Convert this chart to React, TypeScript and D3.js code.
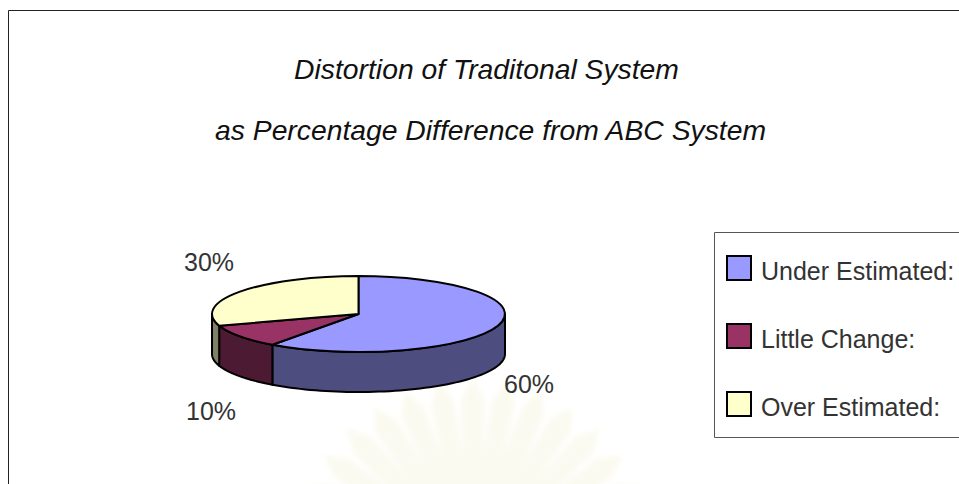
import React from 'react';
import * as d3 from 'd3';

const width = 959;
const height = 484;

const titleLines = ['Distortion of Traditonal System', 'as Percentage Difference from ABC System'];
const titleCenters = [486.5, 490.5];
const categories = ['Under Estimated:', 'Little Change:', 'Over Estimated:'];
const shares = [60, 10, 30];
const topColors = ['#9999ff', '#993366', '#ffffcc'];
const sideColors = ['#4d4d80', '#4d1a33', '#808066'];
const labelSpots: [number, number][] = [[504, 393], [186, 419.5], [184, 271]];

const cx = 358.5;
const cy = 314;
const rx = 146.5;
const ry = 38;
const depth = 40;

const slices = d3.pie<number>().sort(null).value(d => d)(shares);

const arcGen = d3.arc<d3.PieArcDatum<number>>().innerRadius(0).outerRadius(rx);

// points along the rim of the squashed disc
const rim = (a: number): [number, number] => [cx + rx * Math.sin(a), cy - ry * Math.cos(a)];

const line = d3.line();

const sidePath = (start: number, end: number) => {
  const from = Math.max(start, Math.PI / 2);
  const to = Math.min(end, (3 * Math.PI) / 2);
  if (to <= from) return null;
  const steps = d3.range(0, 61).map(i => from + ((to - from) * i) / 60);
  const upper = steps.map(rim);
  const lower = steps.slice().reverse().map(a => {
    const [x, y] = rim(a);
    return [x, y + depth] as [number, number];
  });
  return line([...upper, ...lower]) + 'Z';
};

const legendY = d3.scalePoint<string>().domain(categories).range([268, 404]);

const rayAngles = d3.range(-66, 67, 11);

const App = () => {
  return (
    <svg width={width} height={height} style={{ position: 'absolute', left: 0, top: 0 }} fontFamily="'Liberation Sans', Arial, sans-serif">
      <defs>
        <filter id="soft" x="-20%" y="-20%" width="140%" height="140%">
          <feGaussianBlur stdDeviation="2.5" />
        </filter>
      </defs>
      <rect width={width} height={height} fill="#fff" />

      {/* faint watermark from the scanned page */}
      <g filter="url(#soft)" transform="translate(473,560)">
        {rayAngles.map(a => (
          <path key={a} d="M-9,-60L-12,-160L0,-183L12,-160L9,-60Z" transform={`rotate(${a})`} fill="#fbfaf1" />
        ))}
      </g>

      <path d={`M8.5,${height}V10.5H${width}`} fill="none" stroke="#222" strokeWidth={1} />

      {titleLines.map((t, i) => (
        <text key={t} x={titleCenters[i]} y={79 + i * 61} textAnchor="middle" fontStyle="italic" fontSize={28.3} fill="#111">{t}</text>
      ))}

      {slices.map((s, i) => {
        const d = sidePath(s.startAngle, s.endAngle);
        return d ? <path key={i} d={d} fill={sideColors[i]} stroke="#000" strokeWidth={2} strokeLinejoin="round" /> : null;
      })}
      {slices.map((s, i) => (
        <path
          key={i}
          d={arcGen(s) as string}
          transform={`translate(${cx},${cy}) scale(1,${ry / rx})`}
          fill={topColors[i]}
          stroke="#000"
          strokeWidth={2}
          strokeLinejoin="round"
          vectorEffect="non-scaling-stroke"
        />
      ))}

      {shares.map((v, i) => (
        <text key={i} x={labelSpots[i][0]} y={labelSpots[i][1]} fontSize={25} fill="#333">{v}%</text>
      ))}

      <path d={`M${width},232.5H714.5V437.5H${width}`} fill="#fff" stroke="#555" strokeWidth={1} />
      {categories.map((c, i) => (
        <g key={c} transform={`translate(0,${legendY(c)})`}>
          <rect x={727} y={-12} width={24} height={24} fill={topColors[i]} stroke="#000" strokeWidth={2} />
          <text x={761} y={12} fontSize={25} fill="#333">{c}</text>
        </g>
      ))}
    </svg>
  );
};

export default App;
